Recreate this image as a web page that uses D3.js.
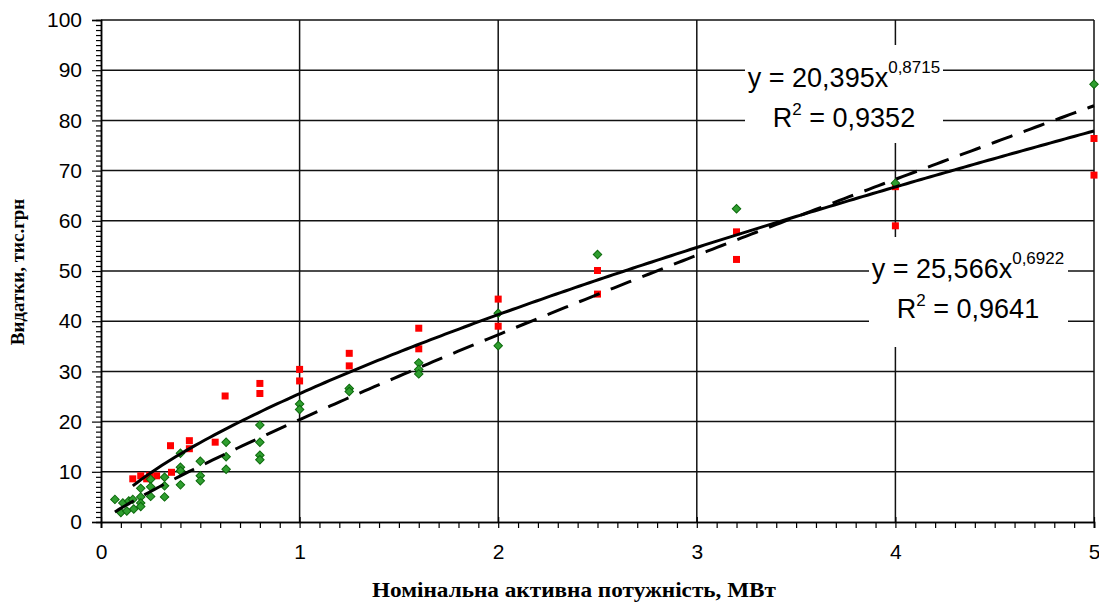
<!DOCTYPE html>
<html>
<head>
<meta charset="utf-8">
<script src="https://cdn.jsdelivr.net/npm/d3@7"></script>
<style>
  html, body { margin: 0; padding: 0; background: #fff; }
  svg { display: block; }
</style>
</head>
<body>
<svg id="chart" width="1099" height="603"></svg>
<script>
// ---------------- DATA ----------------
const xTicks = [0, 1, 2, 3, 4, 5];
const yTicks = [0, 10, 20, 30, 40, 50, 60, 70, 80, 90, 100];

// Series 1 (red squares)
const redX = [0.16, 0.20, 0.23, 0.245, 0.28, 0.355, 0.35, 0.445, 0.445, 0.575, 0.625,
              0.80, 0.80, 1.0, 1.0, 1.25, 1.25, 1.6, 1.6, 2.0, 2.0, 2.5, 2.5, 3.2, 3.2, 4.0, 4.0, 5.0, 5.0];
const redY = [8.6, 9.2, 8.6, 9.3, 9.2, 9.9, 15.2, 16.2, 14.6, 15.9, 25.1,
              27.6, 25.6, 30.4, 28.1, 33.6, 31.1, 38.6, 34.5, 44.4, 39.0, 50.1, 45.4, 57.8, 52.3, 66.8, 59.0, 76.4, 69.1];

// Series 2 (green diamonds)
const greenX = [0.07, 0.10, 0.11, 0.13, 0.14, 0.16, 0.165, 0.20, 0.20, 0.20, 0.20,
                0.25, 0.25, 0.25, 0.32, 0.32, 0.32, 0.40, 0.40, 0.40, 0.40,
                0.50, 0.50, 0.50, 0.63, 0.63, 0.63, 0.80, 0.80, 0.80, 0.80,
                1.0, 1.0, 1.25, 1.25, 1.6, 1.6, 1.6, 2.0, 2.0, 2.5, 3.2, 4.0, 5.0];
const greenY = [4.5, 1.9, 3.8, 2.2, 4.2, 4.5, 2.6, 6.7, 5.0, 3.8, 3.1,
                8.5, 7.0, 5.1, 8.9, 7.2, 5.0, 13.7, 10.9, 10.2, 7.4,
                12.1, 9.2, 8.2, 15.9, 13.0, 10.5, 19.3, 15.9, 13.3, 12.4,
                23.5, 22.4, 26.6, 26.0, 31.7, 30.4, 29.5, 41.6, 35.1, 53.3, 62.4, 67.5, 87.2];

// Power trendlines y = a * x^b  (solid: red series, dashed: green series)
const trendNames = ["red", "green"];
const trendA = [25.566, 20.395];
const trendB = [0.6922, 0.8715];
const trendEq = [["y = 25,566x", "0,6922", "R", "2", " = 0,9641"],
                 ["y = 20,395x", "0,8715", "R", "2", " = 0,9352"]];

// ---------------- LAYOUT ----------------
const svg = d3.select("#chart");
const x = d3.scaleLinear().domain([0, 5]).range([101, 1094]);
const y = d3.scaleLinear().domain([0, 100]).range([522, 20]);
const sansFont = "'Liberation Sans', Arial, sans-serif";
const serifFont = "'Liberation Serif', 'Times New Roman', serif";

// Gridlines
const grid = svg.append("g").attr("stroke", "#111").attr("stroke-width", 1.5);
grid.selectAll("line.h").data(yTicks.filter(d => d > 0)).join("line")
  .attr("x1", x(0)).attr("x2", x(5)).attr("y1", d => y(d)).attr("y2", d => y(d));
grid.selectAll("line.v").data(xTicks.filter(d => d > 0)).join("line")
  .attr("y1", y(0)).attr("y2", y(100)).attr("x1", d => x(d)).attr("x2", d => x(d));

// Equation label boxes (white, covering gridlines)
const boxes = [
  {x0: 869, x1: 1068, y0: 237, y1: 347, cx: 968, b1: 278, b2: 318},
  {x0: 745, x1: 943, y0: 45, y1: 143, cx: 844, b1: 87, b2: 127}
];
boxes.forEach((bx, i) => {
  svg.append("rect").attr("x", bx.x0).attr("y", bx.y0)
    .attr("width", bx.x1 - bx.x0).attr("height", bx.y1 - bx.y0).attr("fill", "#fff");
  const eq = trendEq[i];
  const t1 = svg.append("text").attr("x", bx.cx).attr("y", bx.b1)
    .attr("text-anchor", "middle").attr("font-family", sansFont).attr("font-size", 27);
  t1.append("tspan").text(eq[0]);
  t1.append("tspan").attr("font-size", 17).attr("dy", -14).text(eq[1]);
  const t2 = svg.append("text").attr("x", bx.cx).attr("y", bx.b2)
    .attr("text-anchor", "middle").attr("font-family", sansFont).attr("font-size", 27);
  t2.append("tspan").text(eq[2]);
  t2.append("tspan").attr("font-size", 17).attr("dy", -12).text(eq[3]);
  t2.append("tspan").attr("dy", 12).text(eq[4]);
});

// Axes
const yMinor = d3.range(0, 101, 1).filter(d => d % 10 !== 0);
const xMinor = d3.range(0, 51, 1).filter(d => d % 10 !== 0).map(d => d / 10);

const gyMinor = svg.append("g").attr("transform", `translate(${x(0)},0)`)
  .call(d3.axisLeft(y).tickValues(yMinor).tickSize(5).tickFormat(""));
const gy = svg.append("g").attr("transform", `translate(${x(0)},0)`)
  .call(d3.axisLeft(y).tickValues(yTicks).tickSize(9).tickPadding(10).tickFormat(d3.format("d")));
const gxMinor = svg.append("g").attr("transform", `translate(0,${y(0)})`)
  .call(d3.axisBottom(x).tickValues(xMinor).tickSize(6).tickFormat(""));
const gx = svg.append("g").attr("transform", `translate(0,${y(0)})`)
  .call(d3.axisBottom(x).tickValues(xTicks).tickSize(6).tickPadding(16).tickFormat(d3.format("d")));

[gyMinor, gy, gxMinor, gx].forEach(g => {
  g.selectAll("path.domain").attr("stroke", "#000").attr("stroke-width", 1.5);
  g.selectAll(".tick line").attr("stroke", "#000").attr("stroke-width", 1.2);
  g.selectAll(".tick text").attr("fill", "#000").attr("font-family", sansFont).attr("font-size", 21);
});
gx.selectAll(".tick line").attr("y1", -5);

// Markers: red squares
svg.append("g").selectAll("path").data(redX.map((d, i) => [d, redY[i]])).join("path")
  .attr("d", d3.symbol(d3.symbolSquare, 49))
  .attr("transform", d => `translate(${x(d[0])},${y(d[1])})`)
  .attr("fill", "#ff0000");

// Markers: green diamonds
svg.append("g").selectAll("path").data(greenX.map((d, i) => [d, greenY[i]])).join("path")
  .attr("d", d3.symbol(d3.symbolSquare, 36))
  .attr("transform", d => `translate(${x(d[0])},${y(d[1])}) rotate(45)`)
  .attr("fill", "#2f9e2f").attr("stroke", "#0c6a0c").attr("stroke-width", 1);

// Trendlines
const xsets = [redX, greenX];
const line = d3.line().x(d => x(d[0])).y(d => y(d[1]));
trendNames.forEach((nm, i) => {
  const [lo, hi] = d3.extent(xsets[i]);
  const pts = d3.range(0, 201).map(k => {
    const xv = lo + (hi - lo) * k / 200;
    return [xv, trendA[i] * Math.pow(xv, trendB[i])];
  });
  svg.append("path").datum(pts).attr("d", line)
    .attr("fill", "none").attr("stroke", "#000").attr("stroke-width", 3)
    .attr("stroke-dasharray", i === 1 ? "22,12" : null);
});

// Axis titles
svg.append("text").attr("x", 574).attr("y", 597).attr("text-anchor", "middle")
  .attr("font-family", serifFont).attr("font-weight", "bold").attr("font-size", 22)
  .attr("textLength", 404).attr("lengthAdjust", "spacingAndGlyphs")
  .text("Номінальна активна потужність, МВт");
svg.append("text").attr("transform", "translate(24,272) rotate(-90)").attr("text-anchor", "middle")
  .attr("font-family", serifFont).attr("font-weight", "bold").attr("font-size", 19)
  .text("Видатки, тис.грн");
</script>
</body>
</html>
